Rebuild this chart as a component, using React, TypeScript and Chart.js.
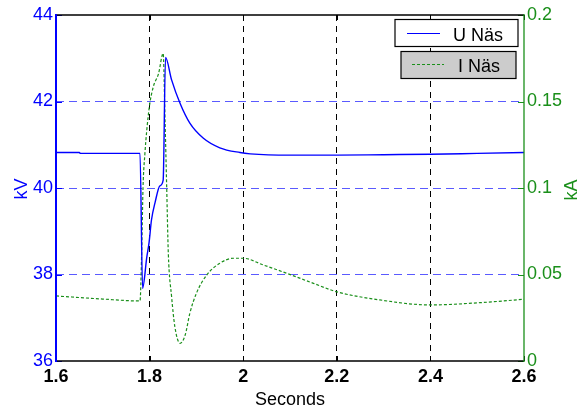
import React, { useEffect, useRef } from "react";
import { Chart, registerables } from "chart.js";

Chart.register(...registerables);

// ---- data ----
const uTime = [1.6, 1.65, 1.652, 1.7795, 1.785, 1.794, 1.799, 1.804, 1.812, 1.822, 1.829, 1.834, 1.847, 1.865, 1.886, 1.915, 1.95, 1.993, 2.015, 2.1, 2.2, 2.3, 2.4, 2.5, 2.6];
const uValues = [40.82, 40.82, 40.8, 40.8, 37.68, 38.4, 38.75, 39.26, 39.68, 40.05, 40.18, 43.02, 42.5, 41.96, 41.5, 41.15, 40.93, 40.82, 40.79, 40.76, 40.76, 40.77, 40.78, 40.8, 40.82];

const iTime = [1.6, 1.7, 1.7795, 1.783, 1.786, 1.79, 1.794, 1.8, 1.808, 1.819, 1.829, 1.833, 1.8365, 1.84, 1.847, 1.854, 1.865, 1.876, 1.886, 1.9, 1.922, 1.95, 1.979, 2.0, 2.043, 2.093, 2.15, 2.2, 2.292, 2.399, 2.506, 2.6];
const iValues = [0.0376, 0.0358, 0.0347, 0.062, 0.1007, 0.12, 0.1335, 0.148, 0.1586, 0.166, 0.1778, 0.139, 0.1007, 0.0622, 0.0372, 0.0198, 0.0102, 0.015, 0.0276, 0.0391, 0.0497, 0.0565, 0.0594, 0.0594, 0.0555, 0.0507, 0.0449, 0.04, 0.0353, 0.0324, 0.0337, 0.0357];

const xTickValues = [1.6, 1.8, 2, 2.2, 2.4, 2.6];
const leftTickValues = [36, 38, 40, 42, 44];
const rightTickValues = [0, 0.05, 0.1, 0.15, 0.2];
const seriesNames = ["U Näs", "I Näs"];
const xTitle = "Seconds";
const leftTitle = "kV";
const rightTitle = "kA";

const FONT = '"Liberation Sans", Arial, Helvetica, sans-serif';
const BLUE = "#0000ff";
const GREEN = "#1a8f1a";

const customPlugin = {
  id: "customFrame",
  afterDatasetsDraw(chart: any) {
    const { ctx, chartArea: a, scales } = chart;
    const x = scales.x, y = scales.y, y1 = scales.y1;
    ctx.save();
    // inner tick marks
    ctx.lineWidth = 1;
    ctx.setLineDash([]);
    ctx.strokeStyle = "#000";
    xTickValues.forEach((v) => {
      const px = Math.round(x.getPixelForValue(v)) + 0.5;
      ctx.beginPath();
      ctx.moveTo(px, a.bottom);
      ctx.lineTo(px, a.bottom - 5);
      ctx.moveTo(px, a.top);
      ctx.lineTo(px, a.top + 5);
      ctx.stroke();
    });
    ctx.strokeStyle = BLUE;
    leftTickValues.forEach((v) => {
      const py = Math.round(y.getPixelForValue(v)) + 0.5;
      ctx.beginPath();
      ctx.moveTo(a.left, py);
      ctx.lineTo(a.left + 6, py);
      ctx.stroke();
    });
    ctx.strokeStyle = GREEN;
    rightTickValues.forEach((v) => {
      const py = Math.round(y1.getPixelForValue(v)) + 0.5;
      ctx.beginPath();
      ctx.moveTo(a.right, py);
      ctx.lineTo(a.right - 6, py);
      ctx.stroke();
    });
    // frame
    ctx.strokeStyle = "#000";
    ctx.lineWidth = 1.5;
    ctx.beginPath();
    ctx.moveTo(a.left, a.top);
    ctx.lineTo(a.right, a.top);
    ctx.moveTo(a.left, a.bottom);
    ctx.lineTo(a.right, a.bottom);
    ctx.stroke();
    ctx.strokeStyle = BLUE;
    ctx.lineWidth = 2;
    ctx.beginPath();
    ctx.moveTo(a.left, a.top - 1);
    ctx.lineTo(a.left, a.bottom + 1);
    ctx.stroke();
    ctx.strokeStyle = GREEN;
    ctx.lineWidth = 1.3;
    ctx.beginPath();
    ctx.moveTo(a.right, a.top - 1);
    ctx.lineTo(a.right, a.bottom + 1);
    ctx.stroke();

    // legend
    ctx.font = `18px ${FONT}`;
    ctx.textAlign = "left";
    ctx.textBaseline = "alphabetic";
    ctx.lineWidth = 1.2;
    ctx.fillStyle = "#ffffff";
    ctx.fillRect(395, 19.5, 123, 27);
    ctx.strokeStyle = "#000";
    ctx.strokeRect(395, 19.5, 123, 27);
    ctx.strokeStyle = BLUE;
    ctx.lineWidth = 1;
    ctx.beginPath();
    ctx.moveTo(407, 33.5);
    ctx.lineTo(440, 33.5);
    ctx.stroke();
    ctx.fillStyle = "#000";
    ctx.fillText(seriesNames[0], 453, 40.5);

    ctx.fillStyle = "#cccccc";
    ctx.fillRect(401, 51.5, 115, 27);
    ctx.strokeStyle = "#000";
    ctx.lineWidth = 1.2;
    ctx.strokeRect(401, 51.5, 115, 27);
    ctx.strokeStyle = GREEN;
    ctx.lineWidth = 1;
    ctx.setLineDash([3, 2]);
    ctx.beginPath();
    ctx.moveTo(412, 64.5);
    ctx.lineTo(444, 64.5);
    ctx.stroke();
    ctx.setLineDash([]);
    ctx.fillStyle = "#000";
    ctx.fillText(seriesNames[1], 458, 72);

    // axis titles
    ctx.fillStyle = "#000";
    ctx.textAlign = "center";
    ctx.fillText(xTitle, 290, 405);
    ctx.save();
    ctx.translate(27, 189);
    ctx.rotate(-Math.PI / 2);
    ctx.fillStyle = BLUE;
    ctx.fillText(leftTitle, 0, 0);
    ctx.restore();
    ctx.save();
    ctx.translate(577, 190);
    ctx.rotate(-Math.PI / 2);
    ctx.fillStyle = GREEN;
    ctx.fillText(rightTitle, 0, 0);
    ctx.restore();
    ctx.restore();
  },
};

export default function App() {
  const ref = useRef<HTMLCanvasElement | null>(null);
  useEffect(() => {
    document.body.style.margin = "0";
    const canvas = ref.current!;
    const chart = new Chart(canvas, {
      type: "line",
      data: {
        datasets: [
          {
            label: seriesNames[0],
            data: uTime.map((t, i) => ({ x: t, y: uValues[i] })),
            borderColor: BLUE,
            borderWidth: 1.4,
            pointRadius: 0,
            cubicInterpolationMode: "monotone",
            yAxisID: "y",
          },
          {
            label: seriesNames[1],
            data: iTime.map((t, i) => ({ x: t, y: iValues[i] })),
            borderColor: GREEN,
            borderWidth: 1.2,
            borderDash: [3, 2],
            pointRadius: 0,
            cubicInterpolationMode: "monotone",
            yAxisID: "y1",
          },
        ],
      },
      options: {
        animation: false,
        responsive: false,
        devicePixelRatio: 1,
        layout: { padding: { top: 15, left: 0, right: 0, bottom: 0 } },
        plugins: { legend: { display: false }, tooltip: { enabled: false } },
        scales: {
          x: {
            type: "linear",
            min: 1.6,
            max: 2.6,
            afterFit: (s: any) => { s.height = 47; },
            afterBuildTicks: (s: any) => { s.ticks = xTickValues.map((v) => ({ value: v })); },
            ticks: {
              color: "#000",
              font: { family: FONT, size: 18, weight: "bold" },
              padding: 5,
              maxRotation: 0,
              autoSkip: false,
              callback: (v: any) => String(Number(Number(v).toFixed(1))),
            },
            grid: {
              drawTicks: false,
              lineWidth: 1,
              color: (c: any) => (c.tick && (Math.abs(c.tick.value - 1.6) < 1e-6 || Math.abs(c.tick.value - 2.6) < 1e-6) ? "rgba(0,0,0,0)" : "#000"),
            },
            border: { display: false, dash: [6, 5] },
          },
          y: {
            type: "linear",
            position: "left",
            min: 36,
            max: 44,
            afterFit: (s: any) => { s.width = 56; },
            afterBuildTicks: (s: any) => { s.ticks = leftTickValues.map((v) => ({ value: v })); },
            ticks: {
              color: BLUE,
              font: { family: FONT, size: 18 },
              padding: 3,
              autoSkip: false,
            },
            grid: {
              drawTicks: false,
              lineWidth: 1,
              color: (c: any) => (c.tick && (c.tick.value === 36 || c.tick.value === 44) ? "rgba(0,0,0,0)" : "#5a5aff"),
            },
            border: { display: false, dash: [8, 5] },
          },
          y1: {
            type: "linear",
            position: "right",
            min: 0,
            max: 0.2,
            afterFit: (s: any) => { s.width = 62; },
            afterBuildTicks: (s: any) => { s.ticks = rightTickValues.map((v) => ({ value: v })); },
            ticks: {
              color: GREEN,
              font: { family: FONT, size: 18 },
              padding: 3,
              autoSkip: false,
              callback: (v: any) => String(Number(Number(v).toFixed(2))),
            },
            grid: { display: false, drawTicks: false },
            border: { display: false },
          },
        },
      },
      plugins: [customPlugin],
    } as any);
    return () => chart.destroy();
  }, []);
  return (
    <div style={{ position: "absolute", left: 0, top: 0, width: 586, height: 408, background: "#fff" }}>
      <canvas ref={ref} width={586} height={408} style={{ display: "block", width: 586, height: 408 }} />
    </div>
  );
}
